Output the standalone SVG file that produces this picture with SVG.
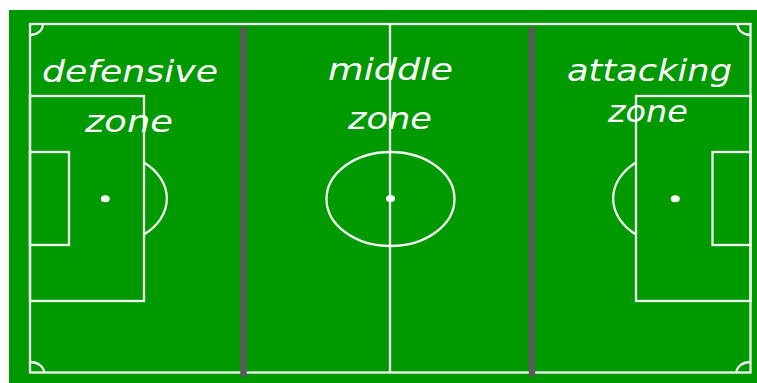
<svg xmlns="http://www.w3.org/2000/svg" width="757" height="383" viewBox="0 0 757 383">
<style>
.ln{fill:none;stroke:#f2f8f2;stroke-width:2.3}
.spot{fill:#ffffff}
.zl{stroke:#595959;stroke-width:6.5;stroke-linecap:round}
.lbl{fill:#ffffff;font-family:"DejaVu Sans",sans-serif;font-style:italic;font-size:31px}
</style>
<rect x="0" y="0" width="757" height="383" fill="#ffffff"/>
<rect x="9" y="10" width="748" height="373" fill="#009900"/>
<g id="pitch-lines">
<rect class="ln" x="30" y="24" width="720.5" height="348.5"/>
<line class="ln" x1="390" y1="24" x2="390" y2="372.5"/>
<ellipse class="ln" cx="390.5" cy="199" rx="64" ry="47"/>
<ellipse class="spot" cx="390.5" cy="198.5" rx="4.5" ry="3.5"/>
<path class="ln" d="M30,35 A13,11 0 0 0 43,24"/>
<path class="ln" d="M737.5,24 A13,11 0 0 0 750.5,35"/>
<path class="ln" d="M30,362 A14,10.5 0 0 1 44,372.5"/>
<path class="ln" d="M736.5,372.5 A14,10.5 0 0 1 750.5,362"/>
</g>
<g id="defensive-zone">
<rect class="ln" x="30" y="96" width="114" height="205"/>
<rect class="ln" x="30" y="152" width="39" height="93"/>
<ellipse class="spot" cx="105.3" cy="198.7" rx="4.5" ry="3.5"/>
<path class="ln" d="M144,162.5 A64,47 0 0 1 144,234.5"/>
<text class="lbl" x="42" y="82" textLength="176" lengthAdjust="spacingAndGlyphs">defensive</text>
<text class="lbl" x="85" y="132" textLength="88" lengthAdjust="spacingAndGlyphs">zone</text>
</g>
<g id="middle-zone">
<text class="lbl" x="328" y="80" textLength="125" lengthAdjust="spacingAndGlyphs">middle</text>
<text class="lbl" x="348" y="129" textLength="84" lengthAdjust="spacingAndGlyphs">zone</text>
</g>
<g id="attacking-zone">
<rect class="ln" x="636" y="96" width="114.5" height="205"/>
<rect class="ln" x="712.5" y="152" width="38" height="93"/>
<ellipse class="spot" cx="675.3" cy="198.7" rx="4.5" ry="3.5"/>
<path class="ln" d="M636,162.5 A64,47 0 0 0 636,234.5"/>
<text class="lbl" x="567" y="81" textLength="165" lengthAdjust="spacingAndGlyphs">attacking</text>
<text class="lbl" x="608" y="122" textLength="80" lengthAdjust="spacingAndGlyphs">zone</text>
</g>
<g id="connectors">
<line class="zl" x1="243.5" y1="30" x2="243.5" y2="374"/>
<line class="zl" x1="532" y1="30" x2="532" y2="374"/>
</g>
</svg>
